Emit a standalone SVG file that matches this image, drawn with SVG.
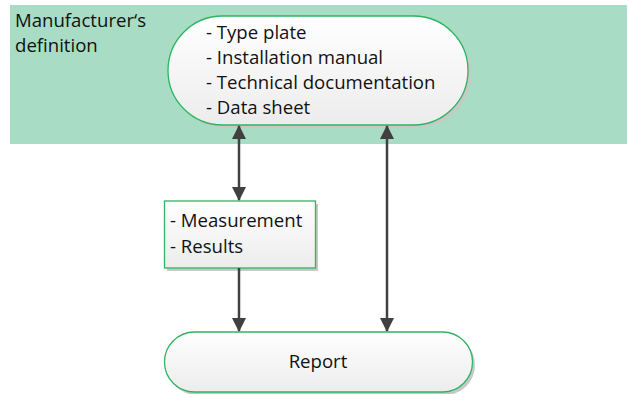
<svg xmlns="http://www.w3.org/2000/svg" width="629" height="394" viewBox="0 0 629 394">
<style>
  text { font-family: "Open Sans", "Liberation Sans", Arial, sans-serif; font-size: 18.6px; fill: #111; }
  .node { fill: url(#g); stroke: #2DB560; stroke-width: 1.3; }
  .shadow { fill: #c8c8c8; }
  .conn { stroke: #404040; stroke-width: 2.5; fill: none; }
</style>
<defs>
  <linearGradient id="g" x1="0" y1="0" x2="0" y2="1">
    <stop offset="0" stop-color="#ffffff"/>
    <stop offset="1" stop-color="#ececec"/>
  </linearGradient>
  <marker id="ah" viewBox="0 0 14 14" refX="13" refY="7" markerWidth="14" markerHeight="14" markerUnits="userSpaceOnUse" orient="auto-start-reverse">
    <path d="M0,0 L14,7 L0,14 Z" fill="#404040"/>
  </marker>
</defs>
<g id="background">
  <rect x="10" y="5" width="617" height="139" fill="#A8DCC4"/>
  <text x="15" y="27">Manufacturer‘s</text>
  <text x="15" y="52">definition</text>
</g>
<g id="manufacturer-docs">
  <rect class="shadow" x="171" y="19" width="300" height="109" rx="54.5"/>
  <rect class="node" x="168" y="16" width="300" height="109" rx="54.5"/>
  <text x="206" y="39">- Type plate</text>
  <text x="206" y="64">- Installation manual</text>
  <text x="206" y="89">- Technical documentation</text>
  <text x="206" y="114">- Data sheet</text>
</g>
<g id="measurement">
  <rect class="shadow" x="167" y="204" width="151" height="67"/>
  <rect class="node" x="164.5" y="201" width="151" height="67"/>
  <text x="170" y="227">- Measurement</text>
  <text x="170" y="253">- Results</text>
</g>
<g id="report">
  <rect class="shadow" x="167" y="335" width="308" height="60" rx="30"/>
  <rect class="node" x="164.5" y="332" width="308" height="60" rx="30"/>
  <text x="318" y="368" text-anchor="middle">Report</text>
</g>
<g id="connectors">
  <line class="conn" x1="239" y1="126" x2="239" y2="200" marker-start="url(#ah)" marker-end="url(#ah)"/>
  <line class="conn" x1="239" y1="268" x2="239" y2="331" marker-end="url(#ah)"/>
  <line class="conn" x1="387" y1="126" x2="387" y2="331" marker-start="url(#ah)" marker-end="url(#ah)"/>
</g>
</svg>
